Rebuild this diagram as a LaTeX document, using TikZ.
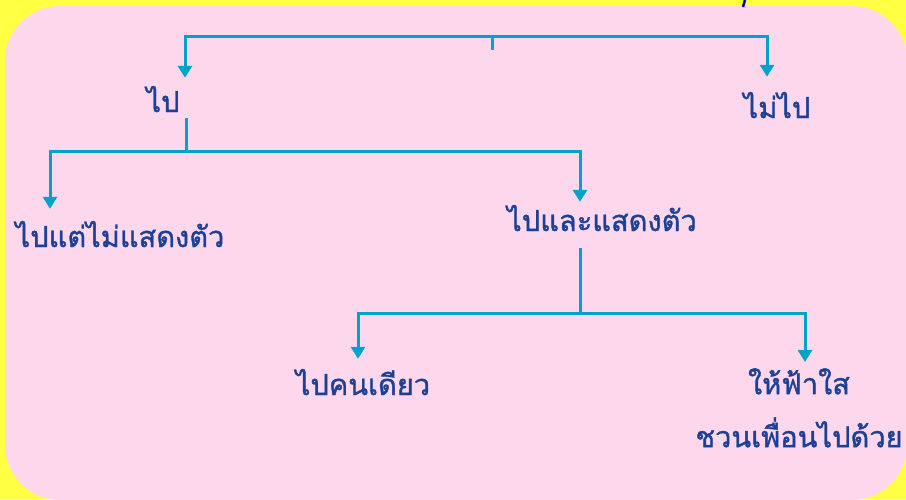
\documentclass[tikz,border=0pt]{standalone}
\usepackage{fontspec}
\newfontfamily\thaifont[Script=Thai,FakeBold=1.2]{Loma}
\usetikzlibrary{arrows.meta}
\definecolor{bgyellow}{RGB}{255,255,68}
\definecolor{bgpink}{RGB}{253,216,236}
\definecolor{linkteal}{RGB}{0,163,200}
\definecolor{txtblue}{RGB}{28,64,150}
\tikzset{
  lbl/.style={font=\thaifont\fontsize{29}{35}\selectfont, text=txtblue, inner sep=0pt, anchor=base, text height=22pt, text depth=6pt},
  link/.style={draw=linkteal, line width=3pt},
  arr/.style={link, -{Triangle[width=14pt,length=12pt]}}
}
\begin{document}
\begin{tikzpicture}[x=1pt,y=-1pt]
\useasboundingbox (0,0) rectangle (906,499);
\fill[bgyellow] (0,0) rectangle (906,499);
\fill[bgpink, rounded corners=55pt] (5,6) rectangle (907,500);
\draw[blue!80!black, line width=2.5pt] (745,0) -- (743,7);

\node[lbl] (pai) at (163,112) {ไป};
\node[lbl] (maipai) at (777,118) {ไม่ไป};
\node[lbl] (paitaemai) at (120,247) {ไปแต่ไม่แสดงตัว};
\node[lbl] (paila) at (602,231) {ไปและแสดงตัว};
\node[lbl] (khondiao) at (363,395) {ไปคนเดียว};
\node[lbl, align=center, text height=, text depth=, anchor=north] (fasai) at (799,368) {ให้ฟ้าใส\\[18pt]ชวนเพื่อนไปด้วย};

\coordinate (root) at (492,50);
\coordinate (bar1) at (492,36);
\coordinate (bar2) at (186,151);
\coordinate (bar3) at (580,313);

\draw[link] (root) -- (bar1);
\draw[arr] (bar1) -| ([xshift=22pt,yshift=12pt]pai.north);
\draw[arr] (bar1) -| ([xshift=-10pt,yshift=19pt]maipai.north);
\draw[link] ([xshift=23pt]pai.south) -- (bar2);
\draw[arr] (bar2) -| ([xshift=-70pt,yshift=16pt]paitaemai.north);
\draw[arr] (bar2) -| ([xshift=-22pt,yshift=7pt]paila.north);
\draw[link] ([xshift=-22pt,yshift=-11pt]paila.south) -- (bar3);
\draw[arr] (bar3) -| ([xshift=-5pt,yshift=14pt]khondiao.north);
\draw[arr] (bar3) -| ([xshift=6pt,yshift=6pt]fasai.north);
\end{tikzpicture}
\end{document}
